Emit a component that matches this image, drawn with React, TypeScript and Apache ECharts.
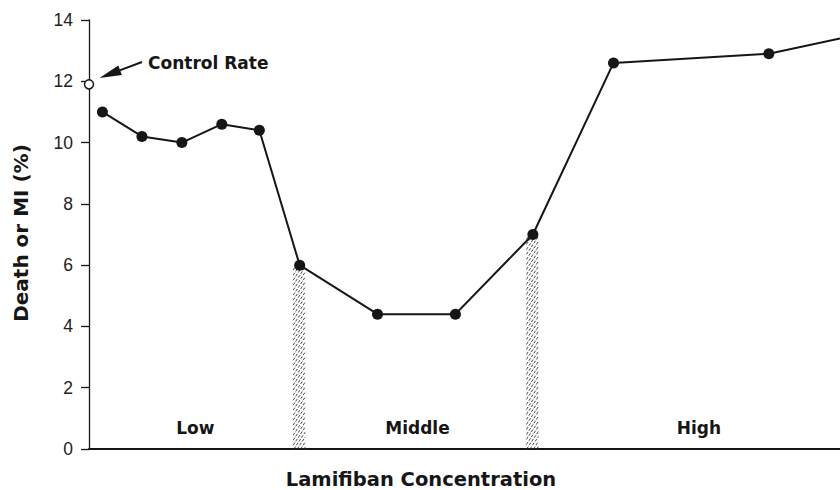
import React, { useEffect, useRef } from "react";
import * as echarts from "echarts";

// Lamifiban concentration (arbitrary ordinal scale)
const concentration = [0.34, 1.34, 2.35, 3.36, 4.31, 5.33, 7.3, 9.27, 11.23, 13.27, 17.2, 19.0];
// Death or MI (%)
const deathOrMI = [11.0, 10.2, 10.0, 10.6, 10.4, 6.0, 4.4, 4.4, 7.0, 12.6, 12.9, 13.4];
const controlRate = 11.9;
// indexes of the points that mark the boundaries between concentration bands
const boundaryIdx = [5, 8];
const regionNames = ["Low", "Middle", "High"];
const regionX = [2.69, 8.31, 15.43];
const regionY = 0.69;
const yMin = 0;
const yMax = 14;
const yStep = 2;
const xMax = 19.0;

const BOLD = "'DejaVu Sans', sans-serif";
const REG = "'Liberation Sans', Arial, sans-serif";
const INK = "#161616";

export default function App() {
  const ref = useRef<HTMLDivElement>(null);
  useEffect(() => {
    if (!ref.current) return;
    const chart = echarts.init(ref.current, undefined, { renderer: "svg" });
    const lastIdx = concentration.length - 1;
    const lineData = concentration.map((x, i) =>
      i === lastIdx ? { value: [x, deathOrMI[i]], symbol: "none" } : { value: [x, deathOrMI[i]] }
    );
    chart.setOption({
      animation: false,
      backgroundColor: "#ffffff",
      grid: { left: 89, right: 0, top: 20, bottom: 41, containLabel: false },
      xAxis: {
        type: "value",
        min: 0,
        max: xMax,
        axisLine: { show: true, lineStyle: { color: INK, width: 1.8 } },
        axisTick: { show: false },
        axisLabel: { show: false },
        splitLine: { show: false },
      },
      yAxis: {
        type: "value",
        min: yMin,
        max: yMax,
        interval: yStep,
        axisLine: { show: true, lineStyle: { color: INK, width: 1.3 } },
        axisTick: { show: true, inside: false, length: 8, lineStyle: { color: INK, width: 1.3 } },
        axisLabel: { margin: 16, fontFamily: REG, fontSize: 17.5, color: "#222" },
        splitLine: { show: false },
      },
      graphic: [
        {
          type: "text",
          x: 21,
          y: 233,
          rotation: Math.PI / 2,
          style: {
            text: "Death or MI (%)",
            fontFamily: BOLD,
            fontWeight: "bold",
            fontSize: 20,
            lineHeight: 20,
            fill: INK,
            align: "center",
            verticalAlign: "middle",
          },
        },
        {
          type: "text",
          x: 421,
          y: 479,
          style: {
            text: "Lamifiban Concentration",
            fontFamily: BOLD,
            fontWeight: "bold",
            fontSize: 19.5,
            lineHeight: 19.5,
            fill: INK,
            align: "center",
            verticalAlign: "middle",
          },
        },
        {
          type: "text",
          x: 148,
          y: 63,
          style: {
            text: "Control Rate",
            fontFamily: BOLD,
            fontWeight: "bold",
            fontSize: 17,
            fill: INK,
            align: "left",
            verticalAlign: "middle",
          },
        },
        {
          type: "line",
          shape: { x1: 142, y1: 62, x2: 119, y2: 70.6 },
          style: { stroke: INK, lineWidth: 2 },
        },
        {
          type: "polygon",
          shape: { points: [[99.5, 78], [121.9, 75.0], [118.3, 65.6]] },
          style: { fill: INK },
        },
      ],
      series: [
        {
          type: "custom",
          name: "boundaries",
          z: 1,
          clip: false,
          encode: { x: 0, y: 1 },
          data: boundaryIdx.map((i) => [concentration[i], deathOrMI[i]]),
          renderItem: (params: any, api: any) => {
            const x = api.value(0);
            const y = api.value(1);
            const topPt = api.coord([x, y]);
            const bottom = api.coord([x, 0])[1];
            const top = topPt[1];
            const w = 12;
            const left = topPt[0] - w / 2 - 0.5;
            const right = left + w;
            const s = 1.5;
            const step = 5;
            const children: any[] = [];
            for (let c = top; c <= bottom + s * w; c += step) {
              let x1 = left,
                y1 = c,
                x2 = right,
                y2 = c - s * w;
              if (y1 > bottom) {
                x1 = left + (y1 - bottom) / s;
                y1 = bottom;
              }
              if (y2 < top) {
                x2 = left + (c - top) / s;
                y2 = top;
              }
              if (x1 >= x2) continue;
              children.push({
                type: "line",
                shape: { x1, y1, x2, y2 },
                style: { stroke: "#333333", lineWidth: 0.9, lineDash: [3, 1.5] },
              });
            }
            return { type: "group", children };
          },
        },
        {
          type: "custom",
          name: "regions",
          z: 1,
          clip: false,
          encode: { x: 0, y: 1 },
          data: regionNames.map((n, i) => [regionX[i], regionY, n]),
          renderItem: (params: any, api: any) => {
            const p = api.coord([api.value(0), api.value(1)]);
            return {
              type: "text",
              x: p[0],
              y: p[1],
              style: {
                text: regionNames[params.dataIndex],
                fontFamily: BOLD,
                fontWeight: "bold",
                fontSize: 17,
                fill: INK,
                align: "center",
                verticalAlign: "middle",
              },
            };
          },
        },
        {
          type: "line",
          name: "Lamifiban",
          z: 3,
          data: lineData,
          symbol: "circle",
          symbolSize: 11,
          showSymbol: true,
          lineStyle: { color: INK, width: 2 },
          itemStyle: { color: INK },
          clip: true,
        },
        {
          type: "scatter",
          name: "Control",
          z: 4,
          data: [[0, controlRate]],
          symbol: "circle",
          symbolSize: 9,
          itemStyle: { color: "#ffffff", borderColor: INK, borderWidth: 1.5, opacity: 1 },
          clip: false,
        },
      ],
    });
    return () => chart.dispose();
  }, []);
  return (
    <div
      ref={ref}
      style={{ position: "absolute", left: 0, top: 0, width: 840, height: 490, background: "#fff" }}
    />
  );
}
